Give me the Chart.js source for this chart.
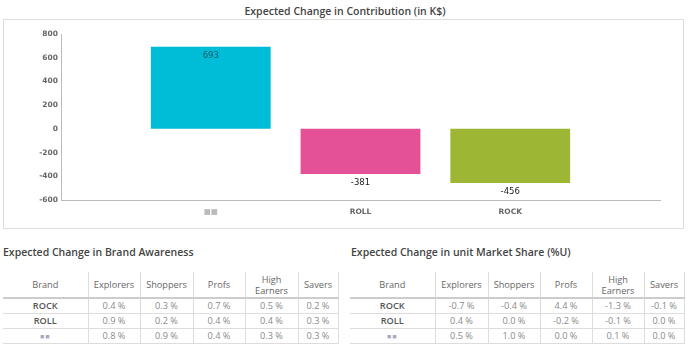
<!DOCTYPE html>
<html><head><meta charset="utf-8">
<script src="https://cdn.jsdelivr.net/npm/chart.js@4.4.1/dist/chart.umd.min.js"></script>
<style>
body{margin:0;background:#fff;font-family:"Open Sans",sans-serif;width:700px;height:363px;overflow:hidden;position:relative}
.ttl{position:absolute;font-weight:600;font-size:10.5px;color:#444;white-space:nowrap;line-height:14px}
#box{position:absolute;left:3px;top:19px;width:681px;height:210px;border:1px solid #ddd;box-sizing:border-box}
#c{position:absolute;left:0;top:0}
table{position:absolute;border-collapse:collapse;table-layout:fixed;font-size:9.2px}
th{font-weight:normal;color:#666;height:25px;line-height:11px;border-right:1px solid #ddd;border-bottom:2px solid #ccc;padding:0;text-align:center}
td{height:14px;padding:0;text-align:center;color:#8a8a8a;border-right:1px solid #ddd;border-bottom:1px solid #ddd;line-height:12px}
td.b{color:#555;font-weight:600}
.hid{color:#aab;font-size:7px;letter-spacing:1px}
</style></head>
<body>
<div class="ttl" style="left:0;width:690px;text-align:center;top:4px">Expected Change in Contribution (in K$)</div>
<div id="box"></div>
<canvas id="c" width="700" height="235"></canvas>
<div class="ttl" style="left:3px;top:245px">Expected Change in Brand Awareness</div>
<div class="ttl" style="left:351px;top:245px">Expected Change in unit Market Share (%U)</div>
<table id="t1" style="left:3px;top:272px;width:335px"></table>
<table id="t2" style="left:350px;top:272px;width:334px"></table>
<script>
const HIDDEN = '■■';
const categories = [HIDDEN, 'ROLL', 'ROCK'];
const contribution = [693, -381, -456];
const barColors = ['#00BDD7', '#E55197', '#9DB734'];
const labelColors = ['#1d5566', '#222', '#222'];
const yTicks = [800, 600, 400, 200, 0, -200, -400, -600];

const segments = ['Explorers', 'Shoppers', 'Profs', 'High Earners', 'Savers'];
const brands = ['ROCK', 'ROLL', HIDDEN];
const awarenessRock = [0.4, 0.3, 0.7, 0.5, 0.2];
const awarenessRoll = [0.9, 0.2, 0.4, 0.4, 0.3];
const awarenessHidden = [0.8, 0.9, 0.4, 0.3, 0.3];
const shareRock = [-0.7, -0.4, 4.4, -1.3, -0.1];
const shareRoll = [0.4, 0.0, -0.2, -0.1, 0.0];
const shareHidden = [0.5, 1.0, 0.0, 0.1, 0.0];

function buildTable(id, rows, widths) {
  const t = document.getElementById(id);
  let h = '<colgroup>' + widths.map(w => '<col style="width:' + w + 'px">').join('') + '</colgroup>';
  h += '<tr><th>Brand</th>' + segments.map(s => '<th>' + s.replace(' ', '<br>') + '</th>').join('') + '</tr>';
  rows.forEach((r, i) => {
    const name = brands[i] === HIDDEN ? '<span class="hid">' + HIDDEN + '</span>' : brands[i];
    h += '<tr><td class="b">' + name + '</td>' + r.map(v => '<td>' + v.toFixed(1) + ' %</td>').join('') + '</tr>';
  });
  t.innerHTML = h;
}
buildTable('t1', [awarenessRock, awarenessRoll, awarenessHidden], [85, 52, 53, 52, 53, 40]);
buildTable('t2', [shareRock, shareRoll, shareHidden], [85, 53, 52, 52, 52, 40]);

const paddedLabels = [''].concat(categories, ['']);
const paddedData = [null].concat(contribution, [null]);
const paddedColors = ['#000'].concat(barColors, ['#000']);

const valueLabels = {
  id: 'valueLabels',
  afterDatasetsDraw(chart) {
    const ctx = chart.ctx;
    const meta = chart.getDatasetMeta(0);
    ctx.save();
    ctx.font = '8.5px "DejaVu Sans", sans-serif';
    ctx.textAlign = 'center';
    ctx.textBaseline = 'middle';
    meta.data.forEach((bar, i) => {
      const v = paddedData[i];
      if (v === null) return;
      ctx.fillStyle = labelColors[i - 1];
      ctx.fillText(String(v), bar.x, bar.y + 9);
    });
    ctx.restore();
  }
};

new Chart(document.getElementById('c'), {
  type: 'bar',
  data: {
    labels: paddedLabels,
    datasets: [{
      data: paddedData,
      backgroundColor: paddedColors,
      borderWidth: 0,
      barPercentage: 1,
      categoryPercentage: 0.8
    }]
  },
  options: {
    responsive: false,
    animation: false,
    layout: { padding: { left: 0, top: 34, right: 40, bottom: 0 } },
    plugins: { legend: { display: false }, tooltip: { enabled: false } },
    scales: {
      x: {
        offset: false,
        grid: { display: false, drawTicks: false },
        border: { color: '#bbb', width: 1 },
        afterFit: s => { s.height = 35; },
        ticks: {
          autoSkip: false, maxRotation: 0, padding: 8,
          font: { family: '"DejaVu Sans", sans-serif', size: 7.5, weight: 'bold' },
          color: c => (c.index === 1 ? '#bbb' : '#666')
        }
      },
      y: {
        min: -600, max: 800,
        grid: { display: false, drawTicks: false },
        border: { color: '#bbb', width: 1 },
        afterFit: s => { s.width = 61; },
        afterBuildTicks: s => { s.ticks = yTicks.map(v => ({ value: v })); },
        ticks: {
          padding: 3,
          font: { family: '"DejaVu Sans", sans-serif', size: 7.5, weight: 'bold' },
          color: '#666'
        }
      }
    }
  },
  plugins: [valueLabels]
});
</script>
</body></html>
